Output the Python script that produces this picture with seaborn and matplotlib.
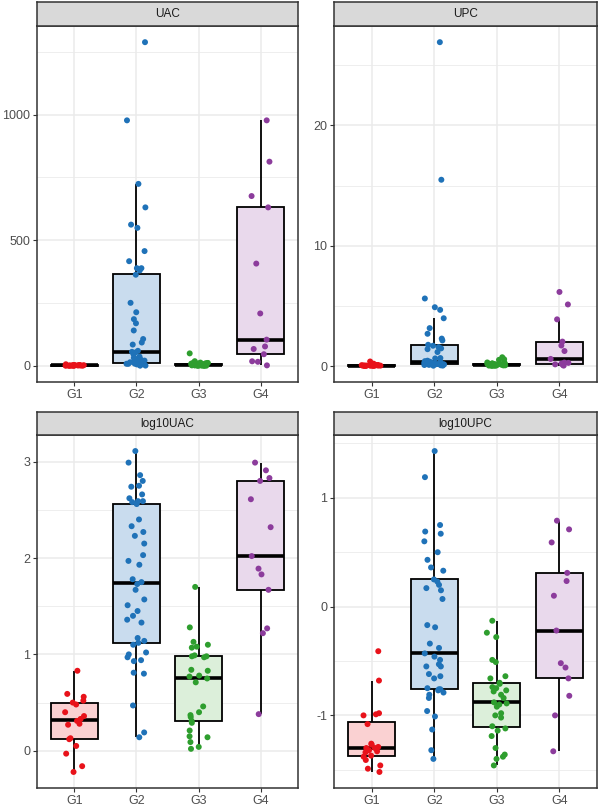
import numpy as np
import pandas as pd
import matplotlib
matplotlib.use("Agg")
import matplotlib.pyplot as plt
import seaborn as sns

# values; the raw panels are the same samples (UAC = 10^log10UAC)
groups = ["G1", "G2", "G3", "G4"]

log10uac_g1 = [0.83, 0.59, 0.56, 0.52, 0.50, 0.48, 0.40, 0.36, 0.33, 0.31, 0.28, 0.27,
               0.13, 0.12, 0.05, -0.03, -0.16, -0.22]
log10uac_g2 = [3.11, 2.99, 2.86, 2.80, 2.75, 2.74, 2.66, 2.62, 2.59, 2.59, 2.58, 2.56,
               2.40, 2.33, 2.27, 2.23, 2.15, 2.03, 1.97, 1.93, 1.78, 1.75, 1.73, 1.67,
               1.57, 1.51, 1.45, 1.40, 1.36, 1.33, 1.17, 1.14, 1.12, 1.10, 1.02, 1.00,
               0.97, 0.94, 0.93, 0.81, 0.80, 0.47, 0.19, 0.14]
log10uac_g3 = [1.70, 1.28, 1.13, 1.10, 1.08, 1.07, 0.99, 0.98, 0.98, 0.97, 0.84, 0.83,
               0.78, 0.77, 0.75, 0.71, 0.46, 0.40, 0.37, 0.35, 0.31, 0.29, 0.21, 0.15,
               0.14, 0.09, 0.04, 0.02]
log10uac_g4 = [2.99, 2.91, 2.83, 2.80, 2.61, 2.32, 2.02, 1.89, 1.83, 1.67, 1.27, 1.22, 0.38]

log10upc_g1 = [-0.41, -0.68, -0.98, -0.99, -1.00, -1.08, -1.26, -1.27, -1.29, -1.30,
               -1.30, -1.32, -1.33, -1.34, -1.37, -1.38, -1.41, -1.46, -1.49, -1.52]
log10upc_g2 = [1.43, 1.19, 0.75, 0.69, 0.67, 0.60, 0.50, 0.43, 0.36, 0.33, 0.25, 0.23,
               0.20, 0.17, 0.15, 0.07, -0.17, -0.19, -0.34, -0.38, -0.43, -0.46, -0.49,
               -0.53, -0.55, -0.55, -0.62, -0.64, -0.66, -0.75, -0.76, -0.76, -0.77,
               -0.79, -0.81, -0.84, -0.96, -1.01, -1.13, -1.32, -1.40]
log10upc_g3 = [-0.13, -0.24, -0.28, -0.49, -0.51, -0.64, -0.66, -0.70, -0.71, -0.74,
               -0.75, -0.77, -0.78, -0.81, -0.84, -0.88, -0.89, -0.90, -0.92, -0.98,
               -1.00, -1.02, -1.10, -1.12, -1.14, -1.19, -1.30, -1.36, -1.38, -1.40, -1.46]
log10upc_g4 = [0.79, 0.71, 0.59, 0.31, 0.235, 0.10, -0.22, -0.52, -0.56, -0.66, -0.82,
               -1.00, -1.33]

panel_names = ["UAC", "UPC", "log10UAC", "log10UPC"]
point_colors = ["#E8121A", "#1F72B8", "#2E9E2E", "#8C3C9C"]
fill_colors = ["#FAD1D2", "#C9DCEE", "#DCEFDA", "#E9D9EC"]


def long_frame(name, per_group, raw=False):
    rows = []
    for g, vals in zip(groups, per_group):
        for v in vals:
            rows.append({"panel": name, "group": g, "value": 10 ** v if raw else v})
    return rows


uac_sets = [log10uac_g1, log10uac_g2, log10uac_g3, log10uac_g4]
upc_sets = [log10upc_g1, log10upc_g2, log10upc_g3, log10upc_g4]
df = pd.DataFrame(long_frame("UAC", uac_sets, raw=True)
                  + long_frame("UPC", upc_sets, raw=True)
                  + long_frame("log10UAC", uac_sets)
                  + long_frame("log10UPC", upc_sets))

major_ticks = {"UAC": [0, 500, 1000], "UPC": [0, 10, 20],
               "log10UAC": [0, 1, 2, 3], "log10UPC": [-1, 0, 1]}
minor_ticks = {"UAC": [250, 750, 1250], "UPC": [5, 15, 25],
               "log10UAC": [0.5, 1.5, 2.5], "log10UPC": [-1.5, -0.5, 0.5, 1.5]}

sns.set_theme(style="white")
plt.rcParams["font.family"] = ["Liberation Sans", "DejaVu Sans"]
plt.rcParams["axes.unicode_minus"] = False
np.random.seed(7)

W, H = 600, 809
fig = plt.figure(figsize=(W / 100, H / 100), dpi=100)

# pixel boxes: (left, right, strip_top, plot_top, plot_bottom)
boxes = [(37, 298, 2, 26, 382), (334, 597, 2, 26, 382),
         (37, 298, 412, 435, 788), (334, 597, 412, 435, 788)]

for name, (x0, x1, s0, p0, p1) in zip(panel_names, boxes):
    ax = fig.add_axes([x0 / W, (H - p1) / H, (x1 - x0) / W, (p1 - p0) / H])
    sub = df[df["panel"] == name]
    sns.boxplot(data=sub, x="group", y="value", hue="group", order=groups,
                hue_order=groups, palette=fill_colors, saturation=1, width=0.75,
                linewidth=1.3, linecolor="black", showfliers=False, showcaps=False,
                legend=False, medianprops={"linewidth": 2.6}, ax=ax)
    sns.stripplot(data=sub, x="group", y="value", hue="group", order=groups,
                  hue_order=groups, palette=point_colors, jitter=0.16, size=4.3,
                  linewidth=0, legend=False, zorder=5, ax=ax)
    ax.set_xlim(-0.6, 3.6)
    lo, hi = sub["value"].min(), sub["value"].max()
    pad = (hi - lo) * 0.05
    ax.set_ylim(lo - pad, hi + pad)
    ax.set_yticks(major_ticks[name])
    ax.set_yticks(minor_ticks[name], minor=True)
    ax.set_axisbelow(True)
    ax.grid(True, which="major", color="#EBEBEB", linewidth=1.1)
    ax.grid(True, which="minor", axis="y", color="#EBEBEB", linewidth=0.6)
    ax.set_xlabel("")
    ax.set_ylabel("")
    ax.tick_params(axis="both", which="major", length=3, width=0.8, color="#333333",
                   labelcolor="#4D4D4D", labelsize=9, pad=2, left=True, bottom=True)
    ax.tick_params(axis="y", which="minor", length=0)
    for sp in ax.spines.values():
        sp.set_color("#333333")
        sp.set_linewidth(1.1)

    sax = fig.add_axes([x0 / W, (H - p0) / H, (x1 - x0) / W, (p0 - s0) / H])
    sax.set_facecolor("#D9D9D9")
    sax.set_xticks([])
    sax.set_yticks([])
    for sp in sax.spines.values():
        sp.set_color("#333333")
        sp.set_linewidth(1.1)
    sax.text(0.5, 0.5, name, ha="center", va="center", fontsize=8.5,
             color="#1A1A1A", transform=sax.transAxes)

fig.savefig("out.png", dpi=100, facecolor="white")
